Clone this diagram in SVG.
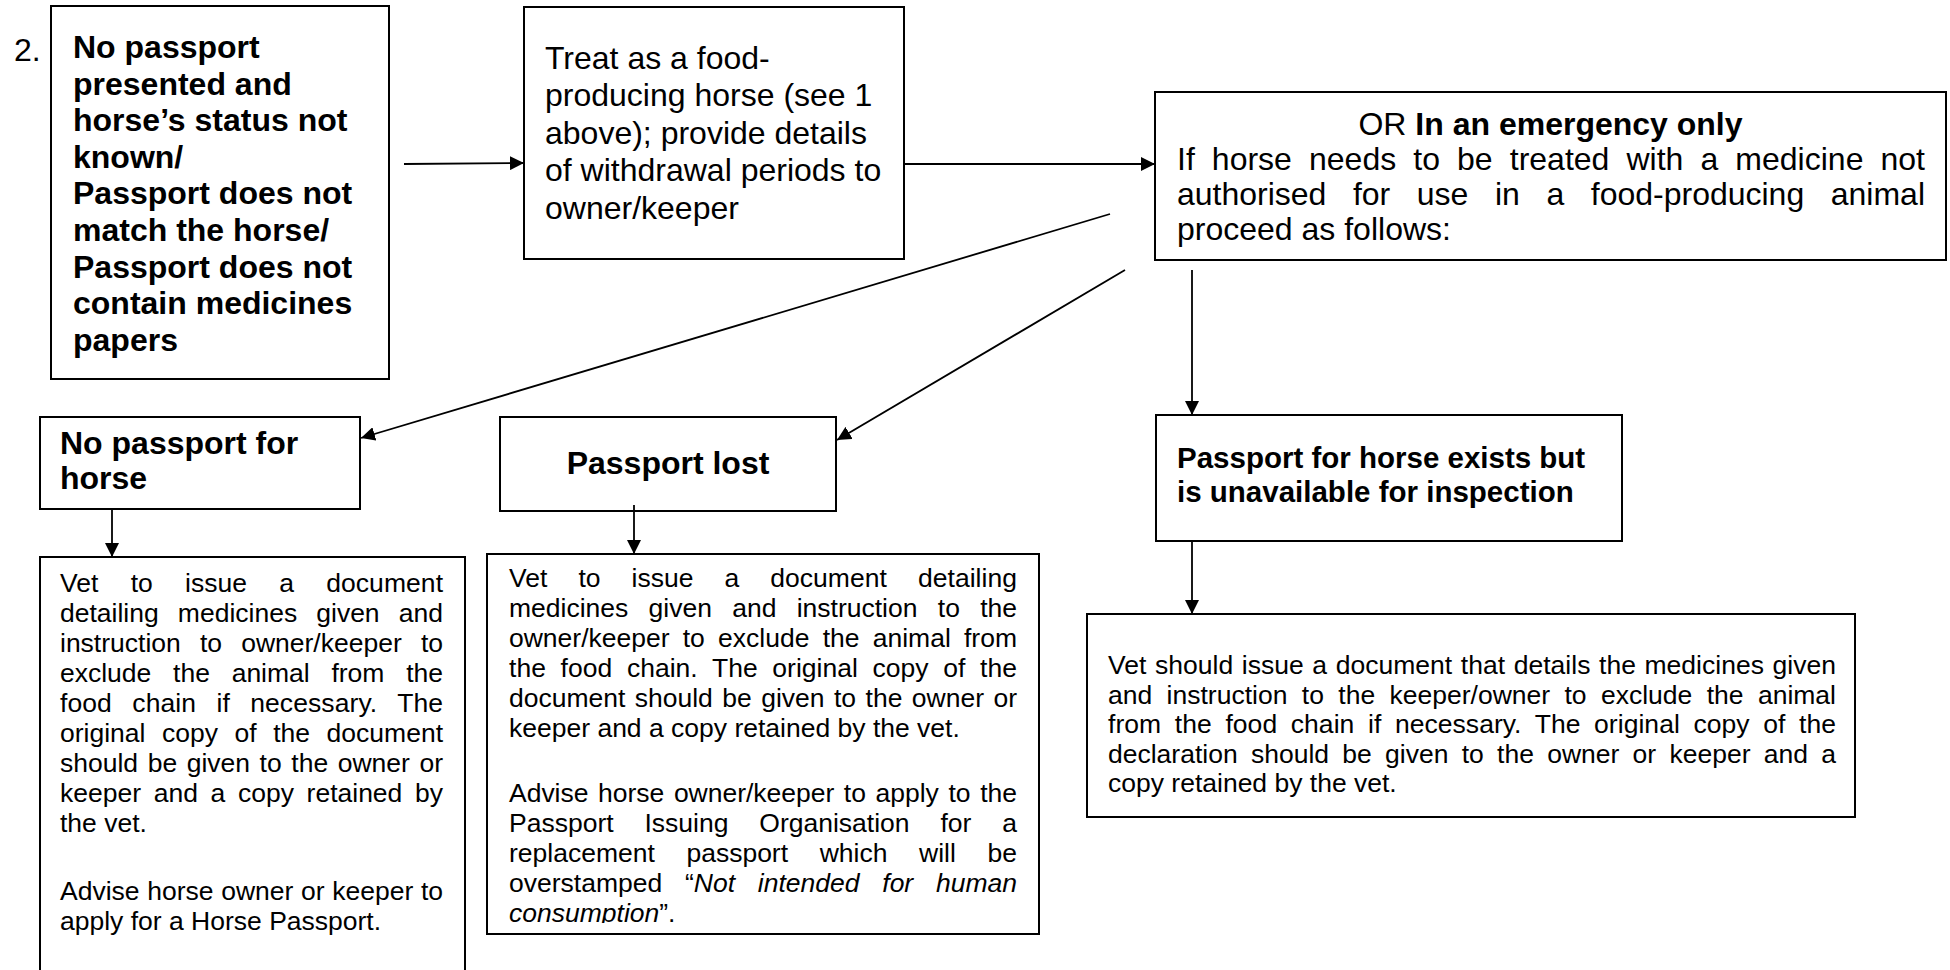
<svg xmlns="http://www.w3.org/2000/svg" width="1950" height="970" viewBox="0 0 1950 970">
<style>
  .box { fill: #fff; stroke: #000; stroke-width: 2; }
  .t { font-family: "Liberation Sans", Arial, sans-serif; fill: #000; }
  .big { font-size: 32px; }
  .bb { font-size: 32px; font-weight: bold; }
  .b6 { font-size: 29.5px; font-weight: bold; }
  .sm { font-size: 26.5px; }
  .it { font-style: italic; }
  .bold { font-weight: bold; }
  .con { stroke: #000; stroke-width: 1.8; fill: none; marker-end: url(#arr); }
</style>
<defs>
  <marker id="arr" markerUnits="userSpaceOnUse" markerWidth="15" markerHeight="14" refX="14" refY="7" orient="auto">
    <path d="M0,0 L14,7 L0,14 z" fill="#000"/>
  </marker>
  <clipPath id="clip8"><rect x="487" y="554" width="552" height="369"/></clipPath>
</defs>
<rect width="1950" height="970" fill="#fff"/>

<g id="label2"><text class="t" x="14" y="61" font-size="32">2.</text></g>

<g id="n1">
  <rect class="box" x="51" y="6" width="338" height="373"/>
  <text class="t bb" x="73" y="58">No passport</text>
  <text class="t bb" x="73" y="94.6">presented and</text>
  <text class="t bb" x="73" y="131.2">horse’s status not</text>
  <text class="t bb" x="73" y="167.8">known/</text>
  <text class="t bb" x="73" y="204.4">Passport does not</text>
  <text class="t bb" x="73" y="241">match the horse/</text>
  <text class="t bb" x="73" y="277.6">Passport does not</text>
  <text class="t bb" x="73" y="314.2">contain medicines</text>
  <text class="t bb" x="73" y="350.8">papers</text>
</g>

<g id="n2">
  <rect class="box" x="524" y="7" width="380" height="252"/>
  <text class="t big" x="545" y="68.5">Treat as a food-</text>
  <text class="t big" x="545" y="106">producing horse (see 1</text>
  <text class="t big" x="545" y="143.5">above); provide details</text>
  <text class="t big" x="545" y="181">of withdrawal periods to</text>
  <text class="t big" x="545" y="218.5">owner/keeper</text>
</g>

<g id="n3">
  <rect class="box" x="1155" y="92" width="791" height="168"/>
  <text class="t big" x="1550.5" y="135" text-anchor="middle">OR <tspan class="bold">In an emergency only</tspan></text>
  <text class="t big" x="1177" y="170" word-spacing="8.2" textLength="748" lengthAdjust="spacing">If horse needs to be treated with a medicine not</text>
  <text class="t big" x="1177" y="205" word-spacing="17.7" textLength="748" lengthAdjust="spacing">authorised for use in a food-producing animal</text>
  <text class="t big" x="1177" y="240">proceed as follows:</text>
</g>

<g id="n4">
  <rect class="box" x="40" y="417" width="320" height="92"/>
  <text class="t bb" x="60" y="454">No passport for</text>
  <text class="t bb" x="60" y="489">horse</text>
</g>

<g id="n5">
  <rect class="box" x="500" y="417" width="336" height="94"/>
  <text class="t bb" x="668" y="474" text-anchor="middle">Passport lost</text>
</g>

<g id="n6">
  <rect class="box" x="1156" y="415" width="466" height="126"/>
  <text class="t b6" x="1177" y="468">Passport for horse exists but</text>
  <text class="t b6" x="1177" y="502">is unavailable for inspection</text>
</g>

<g id="n7">
  <rect class="box" x="40" y="557" width="425" height="440"/>
  <text class="t sm" x="60" y="592" word-spacing="24.7" textLength="383" lengthAdjust="spacing">Vet to issue a document</text>
  <text class="t sm" x="60" y="622" word-spacing="11.8" textLength="383" lengthAdjust="spacing">detailing medicines given and</text>
  <text class="t sm" x="60" y="652" word-spacing="11.8" textLength="383" lengthAdjust="spacing">instruction to owner/keeper to</text>
  <text class="t sm" x="60" y="682" word-spacing="14.4" textLength="383" lengthAdjust="spacing">exclude the animal from the</text>
  <text class="t sm" x="60" y="712" word-spacing="12.9" textLength="383" lengthAdjust="spacing">food chain if necessary. The</text>
  <text class="t sm" x="60" y="742" word-spacing="9.2" textLength="383" lengthAdjust="spacing">original copy of the document</text>
  <text class="t sm" x="60" y="772" word-spacing="2.2" textLength="383" lengthAdjust="spacing">should be given to the owner or</text>
  <text class="t sm" x="60" y="802" word-spacing="5.3" textLength="383" lengthAdjust="spacing">keeper and a copy retained by</text>
  <text class="t sm" x="60" y="832">the vet.</text>
  <text class="t sm" x="60" y="900" word-spacing="0.3" textLength="383" lengthAdjust="spacing">Advise horse owner or keeper to</text>
  <text class="t sm" x="60" y="930">apply for a Horse Passport.</text>
</g>

<g id="n8">
  <rect class="box" x="487" y="554" width="552" height="380"/>
  <g clip-path="url(#clip8)">
    <text class="t sm" x="509" y="587" word-spacing="23.5" textLength="508" lengthAdjust="spacing">Vet to issue a document detailing</text>
    <text class="t sm" x="509" y="617" word-spacing="12.9" textLength="508" lengthAdjust="spacing">medicines given and instruction to the</text>
    <text class="t sm" x="509" y="647" word-spacing="5.9" textLength="508" lengthAdjust="spacing">owner/keeper to exclude the animal from</text>
    <text class="t sm" x="509" y="677" word-spacing="7.3" textLength="508" lengthAdjust="spacing">the food chain. The original copy of the</text>
    <text class="t sm" x="509" y="707" word-spacing="2.1" textLength="508" lengthAdjust="spacing">document should be given to the owner or</text>
    <text class="t sm" x="509" y="737">keeper and a copy retained by the vet.</text>
    <text class="t sm" x="509" y="802" word-spacing="2.3" textLength="508" lengthAdjust="spacing">Advise horse owner/keeper to apply to the</text>
    <text class="t sm" x="509" y="832" word-spacing="23.5" textLength="508" lengthAdjust="spacing">Passport Issuing Organisation for a</text>
    <text class="t sm" x="509" y="862" word-spacing="24.3" textLength="508" lengthAdjust="spacing">replacement passport which will be</text>
    <text class="t sm" x="509" y="892" word-spacing="15.4" textLength="508" lengthAdjust="spacing">overstamped “<tspan class="it">Not intended for human</tspan></text>
    <text class="t sm" x="509" y="922"><tspan class="it">consumption</tspan>”.</text>
  </g>
</g>

<g id="n9">
  <rect class="box" x="1087" y="614" width="768" height="203"/>
  <text class="t sm" x="1108" y="674" word-spacing="1.2" textLength="728" lengthAdjust="spacing">Vet should issue a document that details the medicines given</text>
  <text class="t sm" x="1108" y="703.5" word-spacing="7" textLength="728" lengthAdjust="spacing">and instruction to the keeper/owner to exclude the animal</text>
  <text class="t sm" x="1108" y="733" word-spacing="6.2" textLength="728" lengthAdjust="spacing">from the food chain if necessary. The original copy of the</text>
  <text class="t sm" x="1108" y="762.5" word-spacing="5.9" textLength="728" lengthAdjust="spacing">declaration should be given to the owner or keeper and a</text>
  <text class="t sm" x="1108" y="792">copy retained by the vet.</text>
</g>

<g id="connectors">
  <line class="con" x1="404" y1="164" x2="524" y2="163"/>
  <line class="con" x1="904" y1="164" x2="1155" y2="164"/>
  <line class="con" x1="1110" y1="214" x2="361" y2="438"/>
  <line class="con" x1="1125" y1="270" x2="837" y2="440"/>
  <line class="con" x1="1192" y1="270" x2="1192" y2="415"/>
  <line class="con" x1="112" y1="509" x2="112" y2="557"/>
  <line class="con" x1="634" y1="505" x2="634" y2="554"/>
  <line class="con" x1="1192" y1="541" x2="1192" y2="614"/>
</g>
</svg>
